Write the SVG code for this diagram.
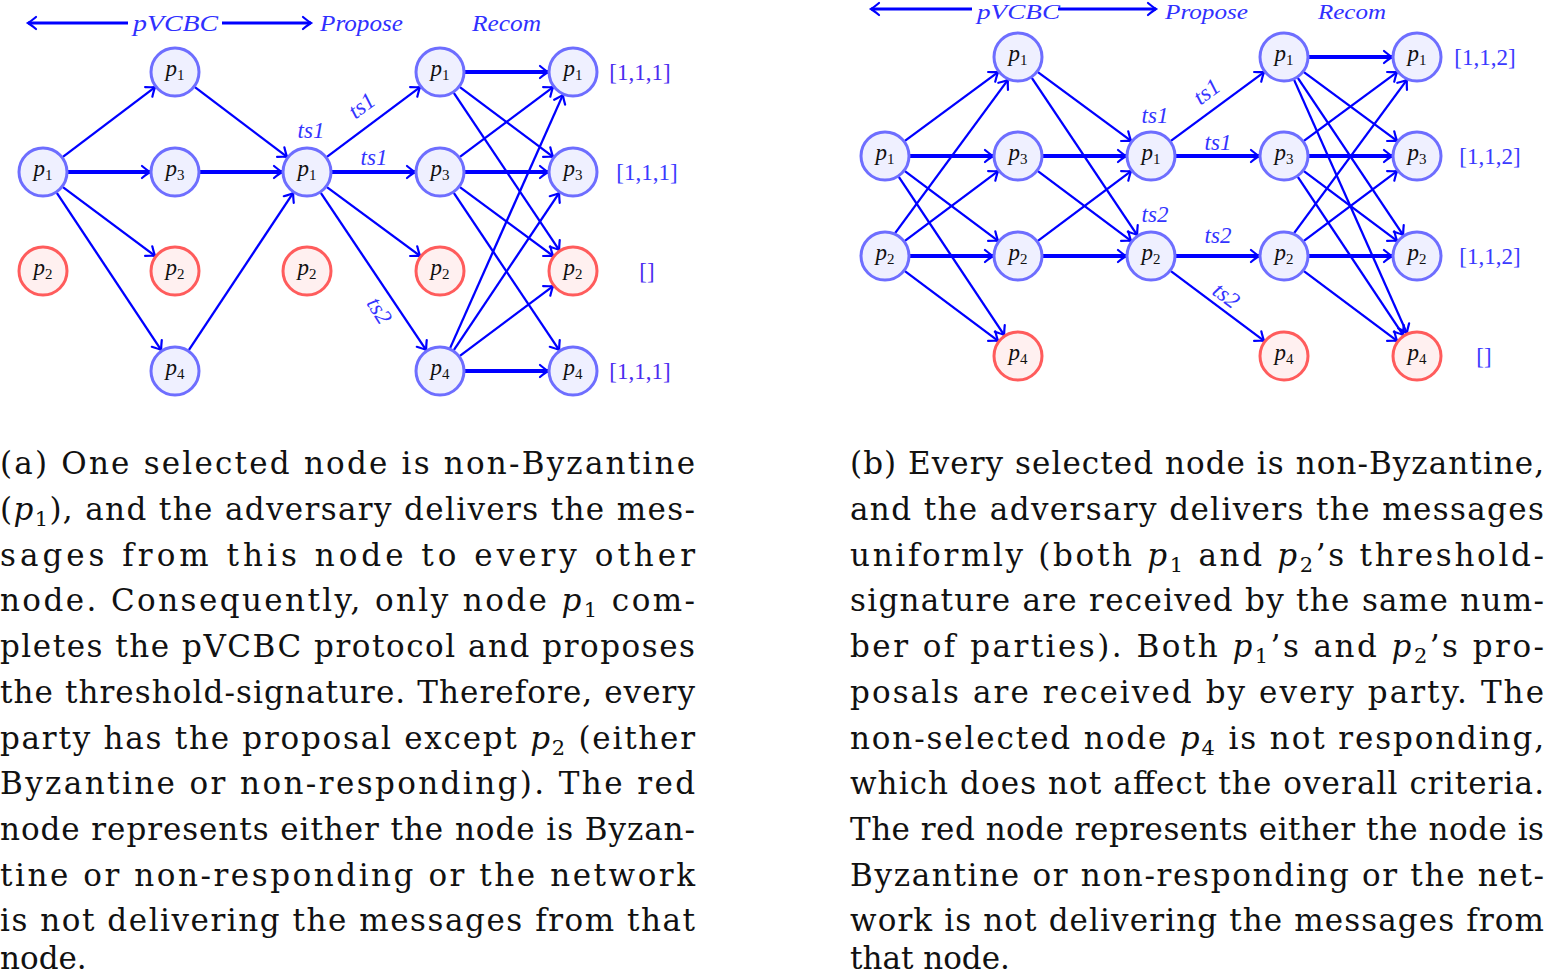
<svg xmlns="http://www.w3.org/2000/svg" width="1544" height="977" viewBox="0 0 1544 977">
<style>
.nb{fill:#eff0ff;stroke:#6e6eff;stroke-width:3}
.nr{fill:#fff0f0;stroke:#ff5c5c;stroke-width:3}
.nl{font-family:"Liberation Serif","DejaVu Serif",serif;font-size:23px;fill:#111;text-anchor:middle}
.nl .v{font-style:italic}
.nl .s{font-size:15px}
.e{stroke:#0000ff;stroke-width:2.3;fill:none;marker-end:url(#tip)}
.h{stroke:#0000ff;stroke-width:4;fill:none;marker-end:url(#tip)}
.hd{stroke:#0000ff;stroke-width:3;fill:none;marker-end:url(#tip)}
.el{font-family:"Liberation Serif","DejaVu Serif",serif;font-style:italic;font-size:23px;fill:#3434ff;text-anchor:middle}
.hl{font-family:"Liberation Serif","DejaVu Serif",serif;font-style:italic;font-size:24px;fill:#3030ff}
.hr{font-size:21px}
.val{font-family:"Liberation Serif","DejaVu Serif",serif;font-size:23px;fill:#3a3aff;text-anchor:middle}
.valp{fill:#4a2cf0}
.cap{font-family:"DejaVu Serif",serif;font-size:31px;fill:#111}
.cap .v{font-style:italic}
.cap .s{font-size:21px}
</style>
<defs>
<marker id="tip" markerUnits="userSpaceOnUse" orient="auto" markerWidth="20" markerHeight="20" refX="0" refY="0" overflow="visible">
<path d="M -8 -6 Q -2.5 -1.5 0 0 Q -2.5 1.5 -8 6" fill="none" stroke="#0000ff" stroke-width="2.2" stroke-linecap="round"/>
</marker>
</defs>
<rect width="1544" height="977" fill="#ffffff"/>

<g id="header-left">
<line class="hd" x1="128" y1="23" x2="28" y2="23"/>
<text class="hl" x="133" y="31" textLength="85" lengthAdjust="spacingAndGlyphs">pVCBC</text>
<line class="hd" x1="222" y1="23" x2="311" y2="23"/>
<text class="hl" x="320" y="31" textLength="83" lengthAdjust="spacingAndGlyphs">Propose</text>
<text class="hl" x="472" y="31" textLength="69" lengthAdjust="spacingAndGlyphs">Recom</text>
</g>
<g id="header-right">
<line class="hd" x1="972" y1="9" x2="871" y2="9"/>
<text class="hl hr" x="977" y="19" textLength="83" lengthAdjust="spacingAndGlyphs">pVCBC</text>
<line class="hd" x1="1058" y1="9" x2="1156" y2="9"/>
<text class="hl hr" x="1165" y="19" textLength="83" lengthAdjust="spacingAndGlyphs">Propose</text>
<text class="hl hr" x="1318" y="19" textLength="68" lengthAdjust="spacingAndGlyphs">Recom</text>
</g>

<g id="connectors">
<line class="e" x1="62.9" y1="156.9" x2="155.1" y2="87.1"/>
<line class="h" x1="68" y1="172" x2="150" y2="172"/>
<line class="e" x1="62.9" y1="187.1" x2="155.1" y2="255.9"/>
<line class="e" x1="56.8" y1="192.9" x2="161.2" y2="350.1"/>
<line class="e" x1="194.9" y1="87.1" x2="287.1" y2="156.9"/>
<line class="h" x1="200" y1="172" x2="282" y2="172"/>
<line class="e" x1="188.8" y1="350.1" x2="293.2" y2="192.9"/>
<line class="e" x1="326.9" y1="156.9" x2="420.1" y2="87.1"/>
<line class="h" x1="332" y1="172" x2="415" y2="172"/>
<line class="e" x1="326.9" y1="187.1" x2="420.1" y2="255.9"/>
<line class="e" x1="320.8" y1="192.9" x2="426.2" y2="350.1"/>
<line class="h" x1="465" y1="72" x2="548" y2="72"/>
<line class="e" x1="459.9" y1="87.1" x2="553.1" y2="156.9"/>
<line class="e" x1="453.8" y1="92.9" x2="559.2" y2="250.1"/>
<line class="e" x1="459.9" y1="156.9" x2="553.1" y2="87.1"/>
<line class="h" x1="465" y1="172" x2="548" y2="172"/>
<line class="e" x1="459.9" y1="187.1" x2="553.1" y2="255.9"/>
<line class="e" x1="453.8" y1="192.9" x2="559.2" y2="350.1"/>
<line class="e" x1="450.1" y1="348.1" x2="562.9" y2="94.9"/>
<line class="e" x1="453.8" y1="350.1" x2="559.2" y2="192.9"/>
<line class="e" x1="459.9" y1="355.9" x2="553.1" y2="286.1"/>
<line class="h" x1="465" y1="371" x2="548" y2="371"/>
<line class="e" x1="904.9" y1="140.9" x2="998.1" y2="72.1"/>
<line class="h" x1="910" y1="156" x2="993" y2="156"/>
<line class="e" x1="904.9" y1="171.1" x2="998.1" y2="240.9"/>
<line class="e" x1="898.8" y1="176.9" x2="1004.2" y2="335.1"/>
<line class="e" x1="895.1" y1="233.1" x2="1007.9" y2="79.9"/>
<line class="e" x1="904.9" y1="240.9" x2="998.1" y2="171.1"/>
<line class="h" x1="910" y1="256" x2="993" y2="256"/>
<line class="e" x1="904.9" y1="271.1" x2="998.1" y2="340.9"/>
<line class="e" x1="1037.9" y1="72.1" x2="1131.1" y2="140.9"/>
<line class="e" x1="1031.8" y1="77.9" x2="1137.2" y2="235.1"/>
<line class="h" x1="1043" y1="156" x2="1126" y2="156"/>
<line class="e" x1="1037.9" y1="171.1" x2="1131.1" y2="240.9"/>
<line class="e" x1="1037.9" y1="240.9" x2="1131.1" y2="171.1"/>
<line class="h" x1="1043" y1="256" x2="1126" y2="256"/>
<line class="e" x1="1170.9" y1="140.9" x2="1264.1" y2="72.1"/>
<line class="h" x1="1176" y1="156" x2="1259" y2="156"/>
<line class="h" x1="1176" y1="256" x2="1259" y2="256"/>
<line class="e" x1="1170.9" y1="271.1" x2="1264.1" y2="340.9"/>
<line class="h" x1="1309" y1="57" x2="1392" y2="57"/>
<line class="e" x1="1303.9" y1="72.1" x2="1397.1" y2="140.9"/>
<line class="e" x1="1297.8" y1="77.9" x2="1403.2" y2="235.1"/>
<line class="e" x1="1294.1" y1="79.9" x2="1406.9" y2="333.1"/>
<line class="e" x1="1303.9" y1="140.9" x2="1397.1" y2="72.1"/>
<line class="h" x1="1309" y1="156" x2="1392" y2="156"/>
<line class="e" x1="1303.9" y1="171.1" x2="1397.1" y2="240.9"/>
<line class="e" x1="1297.8" y1="176.9" x2="1403.2" y2="335.1"/>
<line class="e" x1="1294.1" y1="233.1" x2="1406.9" y2="79.9"/>
<line class="e" x1="1303.9" y1="240.9" x2="1397.1" y2="171.1"/>
<line class="h" x1="1309" y1="256" x2="1392" y2="256"/>
<line class="e" x1="1303.9" y1="271.1" x2="1397.1" y2="340.9"/>
</g>

<g id="edge-labels">
<text class="el" x="311" y="138">ts1</text>
<text class="el" transform="translate(362,106) rotate(-37)" y="7">ts1</text>
<text class="el" x="374" y="165">ts1</text>
<text class="el" transform="translate(379,311) rotate(58)" y="7">ts2</text>
<text class="el" x="1155" y="123">ts1</text>
<text class="el" x="1155" y="222">ts2</text>
<text class="el" transform="translate(1207,92) rotate(-37)" y="7">ts1</text>
<text class="el" x="1218" y="150">ts1</text>
<text class="el" x="1218" y="243">ts2</text>
<text class="el" transform="translate(1226,296) rotate(37)" y="7">ts2</text>
</g>

<g id="L0-p1"><circle class="nb" cx="43" cy="172" r="24"/><text class="nl" x="43" y="176"><tspan class="v">p</tspan><tspan class="s" dy="4">1</tspan></text></g>
<g id="L0-p2"><circle class="nr" cx="43" cy="271" r="24"/><text class="nl" x="43" y="275"><tspan class="v">p</tspan><tspan class="s" dy="4">2</tspan></text></g>
<g id="L1-p1"><circle class="nb" cx="175" cy="72" r="24"/><text class="nl" x="175" y="76"><tspan class="v">p</tspan><tspan class="s" dy="4">1</tspan></text></g>
<g id="L1-p3"><circle class="nb" cx="175" cy="172" r="24"/><text class="nl" x="175" y="176"><tspan class="v">p</tspan><tspan class="s" dy="4">3</tspan></text></g>
<g id="L1-p2"><circle class="nr" cx="175" cy="271" r="24"/><text class="nl" x="175" y="275"><tspan class="v">p</tspan><tspan class="s" dy="4">2</tspan></text></g>
<g id="L1-p4"><circle class="nb" cx="175" cy="371" r="24"/><text class="nl" x="175" y="375"><tspan class="v">p</tspan><tspan class="s" dy="4">4</tspan></text></g>
<g id="L2-p1"><circle class="nb" cx="307" cy="172" r="24"/><text class="nl" x="307" y="176"><tspan class="v">p</tspan><tspan class="s" dy="4">1</tspan></text></g>
<g id="L2-p2"><circle class="nr" cx="307" cy="271" r="24"/><text class="nl" x="307" y="275"><tspan class="v">p</tspan><tspan class="s" dy="4">2</tspan></text></g>
<g id="L3-p1"><circle class="nb" cx="440" cy="72" r="24"/><text class="nl" x="440" y="76"><tspan class="v">p</tspan><tspan class="s" dy="4">1</tspan></text></g>
<g id="L3-p3"><circle class="nb" cx="440" cy="172" r="24"/><text class="nl" x="440" y="176"><tspan class="v">p</tspan><tspan class="s" dy="4">3</tspan></text></g>
<g id="L3-p2"><circle class="nr" cx="440" cy="271" r="24"/><text class="nl" x="440" y="275"><tspan class="v">p</tspan><tspan class="s" dy="4">2</tspan></text></g>
<g id="L3-p4"><circle class="nb" cx="440" cy="371" r="24"/><text class="nl" x="440" y="375"><tspan class="v">p</tspan><tspan class="s" dy="4">4</tspan></text></g>
<g id="L4-p1"><circle class="nb" cx="573" cy="72" r="24"/><text class="nl" x="573" y="76"><tspan class="v">p</tspan><tspan class="s" dy="4">1</tspan></text></g>
<g id="L4-p3"><circle class="nb" cx="573" cy="172" r="24"/><text class="nl" x="573" y="176"><tspan class="v">p</tspan><tspan class="s" dy="4">3</tspan></text></g>
<g id="L4-p2"><circle class="nr" cx="573" cy="271" r="24"/><text class="nl" x="573" y="275"><tspan class="v">p</tspan><tspan class="s" dy="4">2</tspan></text></g>
<g id="L4-p4"><circle class="nb" cx="573" cy="371" r="24"/><text class="nl" x="573" y="375"><tspan class="v">p</tspan><tspan class="s" dy="4">4</tspan></text></g>

<g id="R0-p1"><circle class="nb" cx="885" cy="156" r="24"/><text class="nl" x="885" y="160"><tspan class="v">p</tspan><tspan class="s" dy="4">1</tspan></text></g>
<g id="R0-p2"><circle class="nb" cx="885" cy="256" r="24"/><text class="nl" x="885" y="260"><tspan class="v">p</tspan><tspan class="s" dy="4">2</tspan></text></g>
<g id="R1-p1"><circle class="nb" cx="1018" cy="57" r="24"/><text class="nl" x="1018" y="61"><tspan class="v">p</tspan><tspan class="s" dy="4">1</tspan></text></g>
<g id="R1-p3"><circle class="nb" cx="1018" cy="156" r="24"/><text class="nl" x="1018" y="160"><tspan class="v">p</tspan><tspan class="s" dy="4">3</tspan></text></g>
<g id="R1-p2"><circle class="nb" cx="1018" cy="256" r="24"/><text class="nl" x="1018" y="260"><tspan class="v">p</tspan><tspan class="s" dy="4">2</tspan></text></g>
<g id="R1-p4"><circle class="nr" cx="1018" cy="356" r="24"/><text class="nl" x="1018" y="360"><tspan class="v">p</tspan><tspan class="s" dy="4">4</tspan></text></g>
<g id="R2-p1"><circle class="nb" cx="1151" cy="156" r="24"/><text class="nl" x="1151" y="160"><tspan class="v">p</tspan><tspan class="s" dy="4">1</tspan></text></g>
<g id="R2-p2"><circle class="nb" cx="1151" cy="256" r="24"/><text class="nl" x="1151" y="260"><tspan class="v">p</tspan><tspan class="s" dy="4">2</tspan></text></g>
<g id="R3-p1"><circle class="nb" cx="1284" cy="57" r="24"/><text class="nl" x="1284" y="61"><tspan class="v">p</tspan><tspan class="s" dy="4">1</tspan></text></g>
<g id="R3-p3"><circle class="nb" cx="1284" cy="156" r="24"/><text class="nl" x="1284" y="160"><tspan class="v">p</tspan><tspan class="s" dy="4">3</tspan></text></g>
<g id="R3-p2"><circle class="nb" cx="1284" cy="256" r="24"/><text class="nl" x="1284" y="260"><tspan class="v">p</tspan><tspan class="s" dy="4">2</tspan></text></g>
<g id="R3-p4"><circle class="nr" cx="1284" cy="356" r="24"/><text class="nl" x="1284" y="360"><tspan class="v">p</tspan><tspan class="s" dy="4">4</tspan></text></g>
<g id="R4-p1"><circle class="nb" cx="1417" cy="57" r="24"/><text class="nl" x="1417" y="61"><tspan class="v">p</tspan><tspan class="s" dy="4">1</tspan></text></g>
<g id="R4-p3"><circle class="nb" cx="1417" cy="156" r="24"/><text class="nl" x="1417" y="160"><tspan class="v">p</tspan><tspan class="s" dy="4">3</tspan></text></g>
<g id="R4-p2"><circle class="nb" cx="1417" cy="256" r="24"/><text class="nl" x="1417" y="260"><tspan class="v">p</tspan><tspan class="s" dy="4">2</tspan></text></g>
<g id="R4-p4"><circle class="nr" cx="1417" cy="356" r="24"/><text class="nl" x="1417" y="360"><tspan class="v">p</tspan><tspan class="s" dy="4">4</tspan></text></g>

<g id="values">
<text class="val valp" x="640" y="80">[1,1,1]</text>
<text class="val" x="647" y="180">[1,1,1]</text>
<text class="val valp" x="647" y="279">[]</text>
<text class="val valp" x="640" y="379">[1,1,1]</text>
<text class="val" x="1485" y="65">[1,1,2]</text>
<text class="val" x="1490" y="164">[1,1,2]</text>
<text class="val" x="1490" y="264">[1,1,2]</text>
<text class="val" x="1484" y="364">[]</text>
</g>

<g id="caption-a" class="cap">
<text x="0" y="474" textLength="695" lengthAdjust="spacing">(a) One selected node is non-Byzantine</text>
<text x="0" y="520" textLength="695" lengthAdjust="spacing">(<tspan class="v">p</tspan><tspan class="s" dy="6">1</tspan><tspan dy="-6">), and the adversary delivers the mes-</tspan></text>
<text x="0" y="566" textLength="695" lengthAdjust="spacing">sages from this node to every other</text>
<text x="0" y="611" textLength="695" lengthAdjust="spacing">node. Consequently, only node <tspan class="v">p</tspan><tspan class="s" dy="6">1</tspan><tspan dy="-6"> com-</tspan></text>
<text x="0" y="657" textLength="695" lengthAdjust="spacing">pletes the pVCBC protocol and proposes</text>
<text x="0" y="703" textLength="695" lengthAdjust="spacing">the threshold-signature. Therefore, every</text>
<text x="0" y="749" textLength="695" lengthAdjust="spacing">party has the proposal except <tspan class="v">p</tspan><tspan class="s" dy="6">2</tspan><tspan dy="-6"> (either</tspan></text>
<text x="0" y="794" textLength="695" lengthAdjust="spacing">Byzantine or non-responding). The red</text>
<text x="0" y="840" textLength="695" lengthAdjust="spacing">node represents either the node is Byzan-</text>
<text x="0" y="886" textLength="695" lengthAdjust="spacing">tine or non-responding or the network</text>
<text x="0" y="931" textLength="695" lengthAdjust="spacing">is not delivering the messages from that</text>
<text x="0" y="969">node.</text>
</g>

<g id="caption-b" class="cap">
<text x="850" y="474" textLength="694" lengthAdjust="spacing">(b) Every selected node is non-Byzantine,</text>
<text x="850" y="520" textLength="694" lengthAdjust="spacing">and the adversary delivers the messages</text>
<text x="850" y="566" textLength="694" lengthAdjust="spacing">uniformly (both <tspan class="v">p</tspan><tspan class="s" dy="6">1</tspan><tspan dy="-6"> and </tspan><tspan class="v">p</tspan><tspan class="s" dy="6">2</tspan><tspan dy="-6">’s threshold-</tspan></text>
<text x="850" y="611" textLength="694" lengthAdjust="spacing">signature are received by the same num-</text>
<text x="850" y="657" textLength="694" lengthAdjust="spacing">ber of parties). Both <tspan class="v">p</tspan><tspan class="s" dy="6">1</tspan><tspan dy="-6">’s and </tspan><tspan class="v">p</tspan><tspan class="s" dy="6">2</tspan><tspan dy="-6">’s pro-</tspan></text>
<text x="850" y="703" textLength="694" lengthAdjust="spacing">posals are received by every party. The</text>
<text x="850" y="749" textLength="694" lengthAdjust="spacing">non-selected node <tspan class="v">p</tspan><tspan class="s" dy="6">4</tspan><tspan dy="-6"> is not responding,</tspan></text>
<text x="850" y="794" textLength="694" lengthAdjust="spacing">which does not affect the overall criteria.</text>
<text x="850" y="840" textLength="694" lengthAdjust="spacing">The red node represents either the node is</text>
<text x="850" y="886" textLength="694" lengthAdjust="spacing">Byzantine or non-responding or the net-</text>
<text x="850" y="931" textLength="694" lengthAdjust="spacing">work is not delivering the messages from</text>
<text x="850" y="969">that node.</text>
</g>
</svg>
